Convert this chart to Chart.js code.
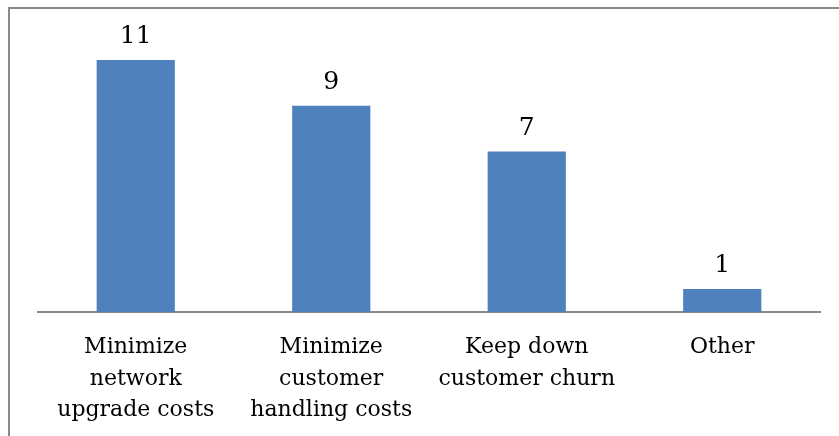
<!DOCTYPE html>
<html>
<head>
<meta charset="utf-8">
<script src="https://cdn.jsdelivr.net/npm/chart.js@4"></script>
<style>
  body { margin: 0; background: #fff; overflow: hidden; }
  #frame { position: absolute; left: 8px; top: 7px; width: 860px; height: 460px; border: 2px solid #8a8a8a; }
  #canvas { position: absolute; left: 0; top: 0; }
</style>
</head>
<body>
<div id="frame"></div>
<canvas id="canvas" width="839" height="436"></canvas>
<script>
var categories = [
  ['Minimize', 'network', 'upgrade costs'],
  ['Minimize', 'customer', 'handling costs'],
  ['Keep down', 'customer churn'],
  'Other'
];
var counts = [11, 9, 7, 1];

// draws the number over each bar
var valueLabels = {
  id: 'valueLabels',
  afterDatasetsDraw: function(chart) {
    var ctx = chart.ctx;
    var meta = chart.getDatasetMeta(0);
    ctx.save();
    ctx.font = '25px "DejaVu Serif"';
    ctx.fillStyle = '#000';
    ctx.textAlign = 'center';
    ctx.textBaseline = 'alphabetic';
    meta.data.forEach(function(bar, i) {
      ctx.fillText(counts[i], bar.x, bar.y - 17);
    });
    ctx.restore();
  }
};

const ctx = document.getElementById('canvas').getContext('2d');
const myChart = new Chart(ctx, {
  type: 'bar',
  data: {
    labels: categories,
    datasets: [{
      data: counts,
      backgroundColor: '#4f81bd',
      borderWidth: 0,
      categoryPercentage: 1,
      barPercentage: 0.4
    }]
  },
  options: {
    responsive: false,
    animation: false,
    layout: { padding: { left: 38, right: 19, top: 37, bottom: 0 } },
    plugins: { legend: { display: false }, tooltip: { enabled: false } },
    scales: {
      x: {
        grid: { display: false },
        border: { display: true, color: '#8a8a8a', width: 2 },
        ticks: {
          color: '#000',
          maxRotation: 0,
          autoSkip: false,
          padding: 12,
          font: { family: 'DejaVu Serif', size: 22, lineHeight: 1.43 }
        },
        afterFit: function(scale) { scale.height = 124; }
      },
      y: {
        display: false,
        min: 0,
        max: 12
      }
    }
  },
  plugins: [valueLabels]
});
</script>
</body>
</html>
